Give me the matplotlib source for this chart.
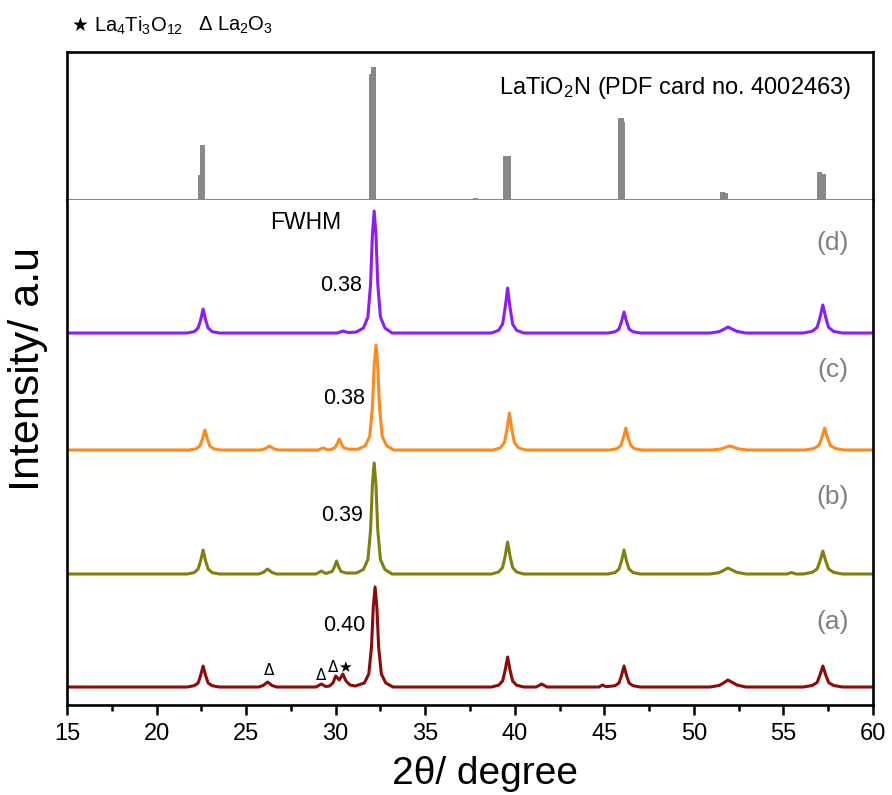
import numpy as np
import matplotlib
matplotlib.use("Agg")
import matplotlib.pyplot as plt

plt.rcParams["font.family"] = ["Liberation Sans", "DejaVu Sans"]
plt.rcParams["mathtext.fontset"] = "custom"
plt.rcParams["mathtext.rm"] = "Liberation Sans"
plt.rcParams["mathtext.default"] = "regular"

# reference pattern LaTiO2N (PDF 4002463): 2theta, relative intensity (%)
pdf_pos = [22.45, 22.55, 32.0, 32.1, 37.8, 39.52, 39.62, 45.93, 46.0, 51.6, 51.78, 57.0, 57.2]
pdf_int = [19, 41, 95, 100, 1.5, 33, 33, 62, 59, 6, 5, 21, 19.5]

# measured patterns (2theta, intensity a.u. above own baseline)
pat_a = [(15.0, 0),
         (21.7, 0), (22.1, 1.3), (22.32, 4), (22.46, 11.5), (22.6, 21), (22.74, 11.5), (22.88, 4), (23.1, 1.3), (23.5, 0),
         (25.7, 0), (25.95, 1.5), (26.2, 5), (26.45, 1.5), (26.7, 0),
         (28.9, 0), (29.2, 3), (29.45, 0.5),
         (29.65, 1), (29.85, 4), (30.0, 11), (30.2, 7), (30.4, 13), (30.58, 6), (30.8, 2), (31.1, 1),
         (31.6, 4), (31.85, 13), (32.0, 40), (32.1, 80), (32.2, 100), (32.3, 80), (32.4, 40), (32.55, 13), (32.8, 4), (33.2, 0),
         (38.7, 0), (39.1, 1.8), (39.32, 6), (39.46, 16.5), (39.6, 30), (39.74, 16.5), (39.88, 6), (40.1, 1.8), (40.5, 0),
         (41.2, 0), (41.5, 3), (41.8, 0),
         (44.7, 0), (44.9, 2), (45.1, 0.3),
         (45.6, 1.3), (45.82, 4), (45.96, 11.5), (46.1, 21), (46.24, 11.5), (46.38, 4), (46.6, 1.3), (47.0, 0),
         (50.9, 0), (51.4, 1.5), (51.65, 4), (51.9, 7), (52.15, 4.5), (52.4, 2), (52.9, 0),
         (56.1, 0), (56.6, 1.5), (56.88, 4.5), (57.04, 12), (57.2, 21), (57.36, 12), (57.52, 4.5), (57.8, 1.5), (58.3, 0),
         (60.0, 0)]
pat_b = [(15.0, 0),
         (21.7, 0), (22.1, 1.4), (22.32, 5), (22.46, 13), (22.6, 24), (22.74, 13), (22.88, 5), (23.1, 1.4), (23.5, 0),
         (25.7, 0), (25.95, 1.5), (26.2, 5), (26.45, 1.5), (26.7, 0),
         (28.9, 0), (29.2, 3), (29.45, 0.5),
         (29.8, 2.5), (29.93, 7), (30.05, 13), (30.17, 7), (30.3, 2.5), (30.6, 1),
         (31.15, 1), (31.55, 4.5), (31.8, 14.5), (31.95, 44), (32.05, 89), (32.15, 111), (32.25, 89), (32.35, 44),
         (32.5, 14.5), (32.75, 4.5), (33.15, 0),
         (38.7, 0), (39.1, 2), (39.32, 6.5), (39.46, 17.5), (39.6, 32), (39.74, 17.5), (39.88, 6.5), (40.1, 2), (40.5, 0),
         (45.2, 0), (45.6, 1.4), (45.82, 5), (45.96, 13), (46.1, 24), (46.24, 13), (46.38, 5), (46.6, 1.4), (47.0, 0),
         (50.9, 0), (51.4, 1.3), (51.65, 3.5), (51.9, 6), (52.15, 3.8), (52.4, 1.7), (52.9, 0),
         (55.2, 0), (55.45, 1.5), (55.7, 0),
         (56.1, 0), (56.6, 1.6), (56.88, 5), (57.04, 13), (57.2, 23), (57.36, 13), (57.52, 5), (57.8, 1.6), (58.3, 0),
         (60.0, 0)]
pat_c = [(15.0, 0),
         (21.8, 0), (22.2, 1.2), (22.42, 4), (22.56, 11), (22.7, 20), (22.84, 11), (22.98, 4), (23.2, 1.2), (23.6, 0),
         (25.8, 0), (26.05, 1.2), (26.3, 4), (26.55, 1.2), (26.8, 0),
         (29.0, 0), (29.3, 2), (29.55, 0.3),
         (29.75, 0.5), (29.95, 2.2), (30.08, 6), (30.2, 11), (30.32, 6), (30.45, 2.2), (30.75, 0.8),
         (31.25, 0.8), (31.65, 4.2), (31.9, 13.5), (32.05, 42), (32.15, 84), (32.25, 105), (32.35, 84), (32.45, 42),
         (32.6, 13.5), (32.85, 4.2), (33.25, 0),
         (38.8, 0), (39.2, 2.2), (39.42, 7.5), (39.56, 20), (39.7, 37), (39.84, 20), (39.98, 7.5), (40.2, 2.2), (40.6, 0),
         (45.3, 0), (45.7, 1.3), (45.92, 4.4), (46.06, 12), (46.2, 22), (46.34, 12), (46.48, 4.4), (46.7, 1.3), (47.1, 0),
         (51.0, 0), (51.5, 1), (51.75, 2.5), (52.0, 4), (52.25, 2.6), (52.5, 1.1), (53.0, 0),
         (56.2, 0), (56.7, 1.5), (56.98, 4.5), (57.14, 12), (57.3, 22), (57.46, 12), (57.62, 4.5), (57.9, 1.5), (58.4, 0),
         (60.0, 0)]
pat_d = [(15.0, 0),
         (21.7, 0), (22.1, 1.4), (22.32, 5), (22.46, 13), (22.6, 24), (22.74, 13), (22.88, 5), (23.1, 1.4), (23.5, 0),
         (30.1, 0), (30.4, 2), (30.7, 0.5),
         (31.15, 1), (31.55, 5), (31.8, 16), (31.95, 49), (32.05, 98), (32.15, 122), (32.25, 98), (32.35, 49),
         (32.5, 16), (32.75, 5), (33.15, 0),
         (38.7, 0), (39.1, 2.7), (39.32, 9), (39.46, 25), (39.6, 45), (39.74, 25), (39.88, 9), (40.1, 2.7), (40.5, 0),
         (45.2, 0), (45.6, 1.3), (45.82, 4), (45.96, 11.5), (46.1, 21), (46.24, 11.5), (46.38, 4), (46.6, 1.3), (47.0, 0),
         (50.9, 0), (51.4, 1.3), (51.65, 3.5), (51.9, 6), (52.15, 3.8), (52.4, 1.7), (52.9, 0),
         (56.1, 0), (56.6, 1.7), (56.88, 5.6), (57.04, 15.5), (57.2, 28), (57.36, 15.5), (57.52, 5.6), (57.8, 1.7), (58.3, 0),
         (60.0, 0)]

patterns = [pat_a, pat_b, pat_c, pat_d]
sample_labels = ["(a)", "(b)", "(c)", "(d)"]
fwhm = ["0.40", "0.39", "0.38", "0.38"]
offsets = [18, 131, 255, 372]
colors = ["#8b0a0a", "#80800f", "#ff8a1c", "#8a1cff"]

fig = plt.figure(figsize=(8.92, 7.95), dpi=100)
ax_ref = fig.add_axes([0.0751, 0.7484, 0.9036, 0.1862])
ax = fig.add_axes([0.0751, 0.1132, 0.9036, 0.6352])

# top panel: stick pattern
ax_ref.bar(pdf_pos, pdf_int, width=0.3, color="#888888", linewidth=0)
ax_ref.axhline(0, color="#888888", lw=2.2, clip_on=False)
ax_ref.set_xlim(15, 60)
ax_ref.set_ylim(0, 111.3)
ax_ref.set_xticks([]); ax_ref.set_yticks([])
ax_ref.spines["bottom"].set_visible(False)
for s in ["top", "left", "right"]:
    ax_ref.spines[s].set_linewidth(1.9)
ax_ref.text(48.95, 84, "LaTiO$_2$N (PDF card no. 4002463)", ha="center", va="center", fontsize=17)

# bottom panel: measured patterns
for pat, off, c in zip(patterns, offsets, colors):
    xs = np.array([p[0] for p in pat])
    ys = np.array([p[1] for p in pat]) + off
    ax.plot(xs, ys, color=c, lw=2.2, solid_joinstyle="round")

ax.set_xlim(15, 60)
ax.set_ylim(0, 505)
ax.set_yticks([])
ax.set_xticks(np.arange(15, 61, 5))
ax.set_xticks(np.arange(17.5, 60, 5), minor=True)
ax.tick_params(axis="x", which="major", direction="out", length=7, width=1.8, labelsize=17, pad=6)
ax.tick_params(axis="x", which="minor", direction="out", length=4, width=1.8)
ax.spines["top"].set_visible(False)
for s in ["bottom", "left", "right"]:
    ax.spines[s].set_linewidth(1.9)

label_y = [83, 208, 335, 462]
fwhm_y = [80, 190, 307, 420]
fwhm_x = [31.65, 31.55, 31.65, 31.45]
for lab, ly, fw, fx, fy in zip(sample_labels, label_y, fwhm, fwhm_x, fwhm_y):
    ax.text(57.77, ly, lab, ha="center", va="center", fontsize=19, color="#808080")
    ax.text(fx, fy, fw, ha="right", va="center", fontsize=15.5)
ax.text(28.35, 483, "FWHM", ha="center", va="center", fontsize=16.5)

# impurity markers on (a)
for mx, my in [(26.28, 35), (29.18, 30), (29.85, 38)]:
    ax.text(mx, my, "Δ", ha="center", va="center", fontsize=11, family="DejaVu Sans")
ax.text(30.5, 38, "★", ha="center", va="center", fontsize=11, family="DejaVu Sans")

ax.set_xlabel("2θ/ degree", fontsize=28)
ax.xaxis.set_label_coords(0.5186, -0.1)
ax.set_ylabel("Intensity/ a.u", fontsize=31)
ax.yaxis.set_label_coords(-0.024, 0.665)

# legend of impurity symbols
fig.text(0.0807, 0.968, "★", ha="left", va="center", fontsize=13.5, family="DejaVu Sans")
fig.text(0.105, 0.968, "La$_4$Ti$_3$O$_{12}$", ha="left", va="center", fontsize=14.5)
fig.text(0.222, 0.968, "Δ La$_2$O$_3$", ha="left", va="center", fontsize=14.5)

fig.savefig("out.png", dpi=100)
